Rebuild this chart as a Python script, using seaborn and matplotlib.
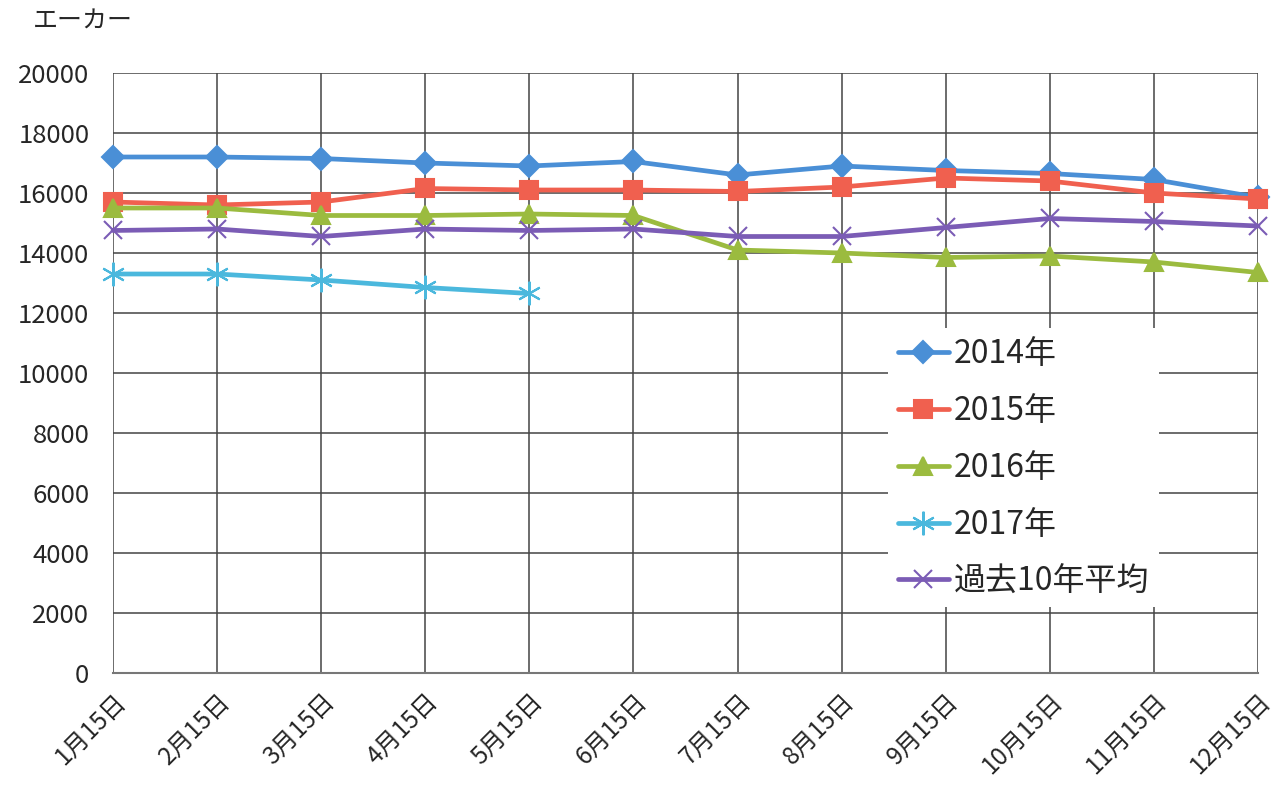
import numpy as np
import pandas as pd
import matplotlib
matplotlib.use("Agg")
import matplotlib.pyplot as plt
import seaborn as sns

DATES = ["1月15日", "2月15日", "3月15日", "4月15日", "5月15日", "6月15日",
         "7月15日", "8月15日", "9月15日", "10月15日", "11月15日", "12月15日"]

Y2014 = [17200, 17200, 17150, 17000, 16900, 17050, 16600, 16900, 16750, 16650, 16450, 15850]
Y2015 = [15700, 15600, 15700, 16150, 16100, 16100, 16050, 16200, 16500, 16400, 16000, 15800]
Y2016 = [15500, 15500, 15250, 15250, 15300, 15250, 14100, 14000, 13850, 13900, 13700, 13350]
Y2017 = [13300, 13300, 13100, 12850, 12650]
AVG10 = [14750, 14800, 14550, 14800, 14750, 14800, 14550, 14550, 14850, 15150, 15050, 14900]

SERIES = [
    ("2014年", Y2014, "#4a8fd6", "D", 11),
    ("2015年", Y2015, "#f0604f", "s", 13),
    ("2016年", Y2016, "#9bbb3f", "^", 13),
    ("2017年", Y2017, "#4bb8dd", (6, 2, 0), 17),
    ("過去10年平均", AVG10, "#7b5cb5", "x", 13),
]

sns.set_style("white")
plt.rcParams["font.family"] = ["Noto Sans CJK JP", "DejaVu Sans"]

fig = plt.figure(figsize=(12.83, 7.87), dpi=100)
ax = fig.add_axes([113 / 1283, 1 - 673 / 787, 1145 / 1283, 600 / 787])

for name, vals, color, marker, ms in SERIES:
    df = pd.DataFrame({"x": np.arange(len(vals)), "y": vals})
    sns.lineplot(data=df, x="x", y="y", ax=ax, color=color, linewidth=3.4,
                 marker=marker, markersize=ms, markeredgecolor=color,
                 markeredgewidth=1.5, label=name, clip_on=False, zorder=3)

ax.set_xlim(0, len(DATES) - 1)
ax.set_ylim(0, 20000)
ax.set_yticks(np.arange(0, 20001, 2000))
ax.set_xticks(np.arange(len(DATES)))
ax.set_xticklabels(DATES, rotation=45, ha="right", rotation_mode="anchor", fontsize=17.5)
ax.tick_params(axis="y", labelsize=18.5, length=6, color="#555555", pad=11)
ax.tick_params(axis="x", length=6, color="#555555", pad=5)
ax.grid(True, color="#444444", linewidth=1.1)
for s in ["left", "right", "top"]:
    ax.spines[s].set_visible(False)
ax.spines["bottom"].set_color("#777777")
ax.spines["bottom"].set_linewidth(1.5)
ax.set_xlabel("")
ax.set_ylabel("")

fig.text(33 / 1283, 1 - 22 / 787, "エーカー", fontsize=18, va="center", ha="left")

leg = ax.legend(loc="upper left", bbox_to_anchor=(0.663, 0.601), fontsize=23,
                frameon=True, framealpha=1, edgecolor="white", fancybox=False,
                handlelength=1.6, handletextpad=0.15, labelspacing=0.78,
                borderpad=0.3)
leg.get_frame().set_linewidth(0)

plt.savefig("out.png", dpi=100)
